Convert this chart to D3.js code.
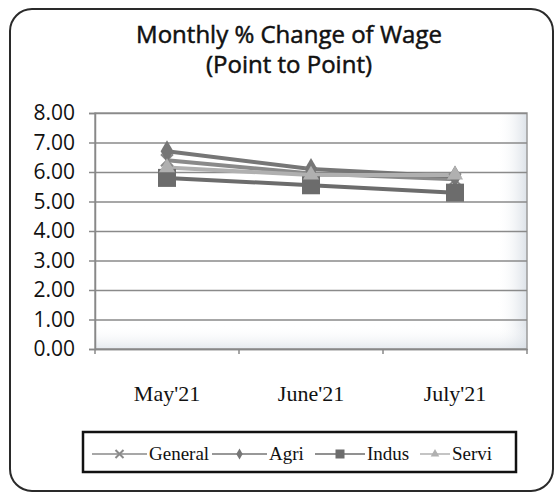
<!DOCTYPE html>
<html>
<head>
<meta charset="utf-8">
<script src="https://cdn.jsdelivr.net/npm/d3@7"></script>
<style>
  body { margin: 0; background: #fff; }
</style>
</head>
<body>
<div id="chart"></div>
<script>
// chart values
var months = ["May'21", "June'21", "July'21"];
var seriesNames = ["General", "Agri", "Indus", "Servi"];
var generalVals = [6.40, 5.95, 5.75];
var agriVals = [6.70, 6.10, 5.85];
var indusVals = [5.80, 5.55, 5.30];
var serviVals = [6.15, 5.90, 5.90];
var yTicks = [0, 1, 2, 3, 4, 5, 6, 7, 8];
var titleLines = ["Monthly % Change of Wage", "(Point to Point)"];

var series = [
    {name: seriesNames[0], values: generalVals, color: "#8a8a8a", marker: "x"},
    {name: seriesNames[1], values: agriVals, color: "#767676", marker: "diamond"},
    {name: seriesNames[2], values: indusVals, color: "#6c6c6c", marker: "square"},
    {name: seriesNames[3], values: serviVals, color: "#b0b0b0", marker: "triangle"}
];

var W = 556, H = 493;
var plot = {left: 95, right: 527, top: 113, bottom: 349};

var svg = d3.select("#chart")
    .append("svg")
    .attr("width", W)
    .attr("height", H)
    .style("font-family", "'Open Sans', sans-serif");

var defs = svg.append("defs");
var gx = defs.append("linearGradient").attr("id", "gx")
    .attr("x1", 0).attr("y1", 0).attr("x2", 1).attr("y2", 0);
gx.append("stop").attr("offset", "0.93").attr("stop-color", "#ffffff").attr("stop-opacity", 0);
gx.append("stop").attr("offset", "1").attr("stop-color", "#d3dae2").attr("stop-opacity", 0.8);
var gy = defs.append("linearGradient").attr("id", "gy")
    .attr("x1", 0).attr("y1", 0).attr("x2", 0).attr("y2", 1);
gy.append("stop").attr("offset", "0.9").attr("stop-color", "#ffffff").attr("stop-opacity", 0);
gy.append("stop").attr("offset", "1").attr("stop-color", "#d3dae2").attr("stop-opacity", 0.6);

// outer frame
svg.append("rect")
    .attr("x", 10).attr("y", 9)
    .attr("width", 543).attr("height", 482)
    .attr("rx", 22).attr("ry", 22)
    .attr("fill", "#fff")
    .attr("stroke", "#2a2a2a")
    .attr("stroke-width", 2);

// title
svg.selectAll(".title")
    .data(titleLines)
    .enter()
    .append("text")
    .attr("class", "title")
    .attr("x", 289)
    .attr("y", function(d, i) { return 43 + i * 30; })
    .attr("text-anchor", "middle")
    .attr("font-size", 24)
    .attr("fill", "#111")
    .attr("stroke", "#111")
    .attr("stroke-width", 0.5)
    .text(function(d) { return d; });

var x = d3.scaleBand()
    .domain(months)
    .range([plot.left, plot.right]);

var y = d3.scaleLinear()
    .domain([0, 8])
    .range([plot.bottom, plot.top]);

// plot area
svg.append("rect")
    .attr("x", plot.left).attr("y", plot.top)
    .attr("width", plot.right - plot.left).attr("height", plot.bottom - plot.top)
    .attr("fill", "#fff");
svg.append("rect")
    .attr("x", plot.left).attr("y", plot.top)
    .attr("width", plot.right - plot.left).attr("height", plot.bottom - plot.top)
    .attr("fill", "url(#gx)");
svg.append("rect")
    .attr("x", plot.left).attr("y", plot.top)
    .attr("width", plot.right - plot.left).attr("height", plot.bottom - plot.top)
    .attr("fill", "url(#gy)")
    .attr("stroke", "#9a9a9a")
    .attr("stroke-width", 1.5);

// gridlines
svg.append("g")
    .attr("transform", "translate(" + plot.left + ",0)")
    .call(d3.axisLeft(y).tickValues(yTicks).tickSize(-(plot.right - plot.left)).tickFormat(""))
    .call(function(g) {
        g.select(".domain").remove();
        g.selectAll("line").attr("stroke", "#8a8a8a").attr("stroke-width", 1.5);
    });

// y axis
svg.append("g")
    .attr("transform", "translate(" + plot.left + ",0)")
    .call(d3.axisLeft(y).tickValues(yTicks).tickSize(6).tickPadding(14).tickFormat(d3.format(".2f")))
    .call(function(g) {
        g.select(".domain").attr("stroke", "#888").attr("stroke-width", 1.5);
        g.selectAll("line").attr("stroke", "#888").attr("stroke-width", 1.5);
        g.selectAll("text")
            .attr("font-family", "'Open Sans', sans-serif")
            .attr("font-size", 21)
            .attr("fill", "#111");
    });

// x axis
svg.append("g")
    .attr("transform", "translate(0," + plot.bottom + ")")
    .call(d3.axisBottom(x).tickSize(0).tickPadding(36))
    .call(function(g) {
        g.select(".domain").attr("stroke", "#888").attr("stroke-width", 1.5);
        g.selectAll("text")
            .attr("font-family", "'Liberation Serif', serif")
            .attr("font-size", 22)
            .attr("fill", "#111");
    });
svg.append("g")
    .selectAll("line")
    .data([0, 1, 2, 3])
    .enter()
    .append("line")
    .attr("x1", function(i) { return plot.left + i * x.step(); })
    .attr("x2", function(i) { return plot.left + i * x.step(); })
    .attr("y1", plot.bottom)
    .attr("y2", plot.bottom + 5)
    .attr("stroke", "#888")
    .attr("stroke-width", 1.5);

function drawMarker(g, type, color, size) {
    if (type == "square") {
        g.append("rect").attr("x", -size / 2).attr("y", -size / 2)
            .attr("width", size).attr("height", size).attr("fill", color);
    } else if (type == "diamond") {
        g.append("path").attr("d", d3.symbol(d3.symbolDiamond, size * size * 0.55)()).attr("fill", color);
    } else if (type == "triangle") {
        g.append("path").attr("d", d3.symbol(d3.symbolTriangle, size * size * 0.5)()).attr("fill", color);
    } else {
        var h = size / 2;
        g.append("path").attr("d", "M" + -h + "," + -h + "L" + h + "," + h + "M" + -h + "," + h + "L" + h + "," + -h)
            .attr("stroke", color).attr("stroke-width", 2).attr("fill", "none");
    }
}

var line = d3.line()
    .x(function(d, i) { return x(months[i]) + x.bandwidth() / 2; })
    .y(function(d) { return y(d); });

var markerSize = {x: 12, diamond: 16, square: 18, triangle: 15};

series.forEach(function(s) {
    svg.append("path")
        .datum(s.values)
        .attr("d", line)
        .attr("fill", "none")
        .attr("stroke", s.color)
        .attr("stroke-width", 4);
});
series.forEach(function(s) {
    s.values.forEach(function(v, i) {
        var g = svg.append("g")
            .attr("transform", "translate(" + (x(months[i]) + x.bandwidth() / 2) + "," + y(v) + ")");
        drawMarker(g, s.marker, s.color, markerSize[s.marker]);
    });
});

// legend
svg.append("rect")
    .attr("x", 83).attr("y", 432)
    .attr("width", 433).attr("height", 40)
    .attr("fill", "#fff")
    .attr("stroke", "#111")
    .attr("stroke-width", 2.5);

var legendX = [92, 212, 315, 420];
var legendLen = [55, 55, 50, 30];
series.forEach(function(s, i) {
    var lg = svg.append("g").attr("transform", "translate(" + legendX[i] + ",454)");
    lg.append("line")
        .attr("x1", 0).attr("x2", legendLen[i])
        .attr("stroke", s.color).attr("stroke-width", 1.5);
    var mg = lg.append("g").attr("transform", "translate(" + legendLen[i] / 2 + ",0)");
    drawMarker(mg, s.marker, s.color, s.marker == "square" ? 9 : 8);
    lg.append("text")
        .attr("x", legendLen[i] + 2)
        .attr("y", 6)
        .attr("font-family", "'Liberation Serif', serif")
        .attr("font-size", 19)
        .attr("fill", "#111")
        .text(s.name);
});
</script>
</body>
</html>
